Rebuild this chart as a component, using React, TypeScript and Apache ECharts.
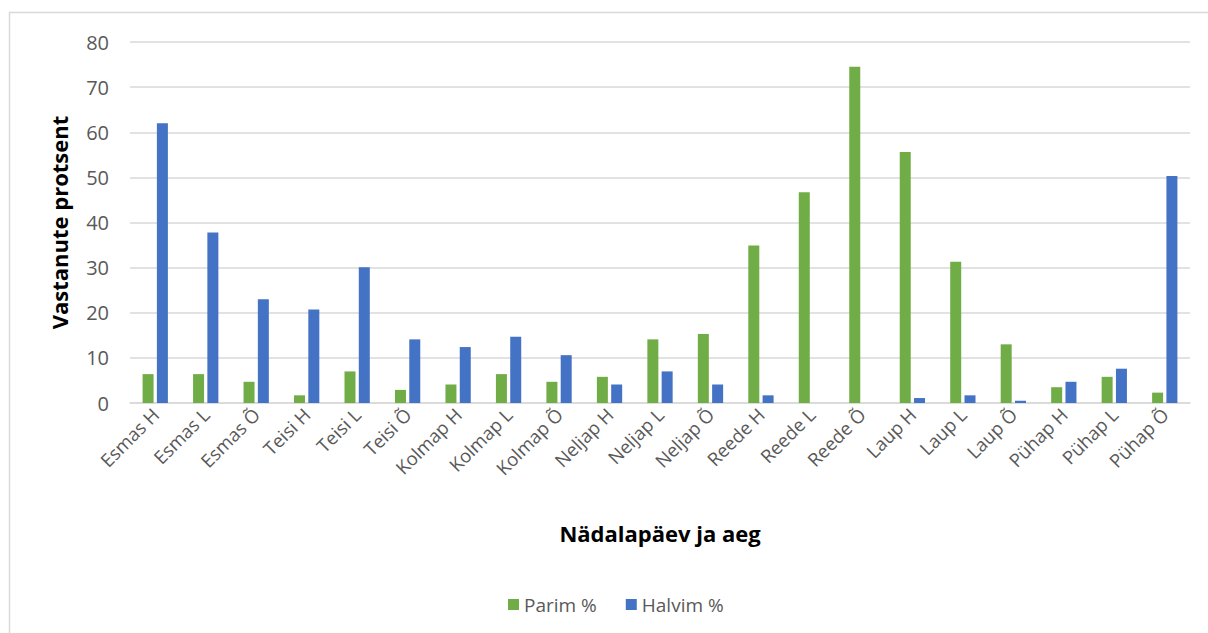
import React, { useEffect, useRef } from "react";
import * as echarts from "echarts";

const categories = [
  "Esmas H", "Esmas L", "Esmas Õ",
  "Teisi H", "Teisi L", "Teisi Õ",
  "Kolmap H", "Kolmap L", "Kolmap Õ",
  "Neljap H", "Neljap L", "Neljap Õ",
  "Reede H", "Reede L", "Reede Õ",
  "Laup H", "Laup L", "Laup Õ",
  "Pühap H", "Pühap L", "Pühap Õ",
];

const parim = [
  6.4, 6.4, 4.7,
  1.7, 7.0, 2.9,
  4.1, 6.4, 4.7,
  5.8, 14.1, 15.3,
  34.9, 46.7, 74.5,
  55.6, 31.3, 13.0,
  3.5, 5.8, 2.3,
];

const halvim = [
  62.0, 37.8, 23.0,
  20.7, 30.1, 14.1,
  12.4, 14.7, 10.6,
  4.1, 7.0, 4.1,
  1.7, 0, 0,
  1.1, 1.7, 0.5,
  4.7, 7.6, 50.3,
];

const seriesNames = ["Parim %", "Halvim %"];
const yTicks = { min: 0, max: 80, interval: 10 };

export default function App() {
  const ref = useRef<HTMLDivElement>(null);

  useEffect(() => {
    if (!ref.current) return;
    const chart = echarts.init(ref.current, undefined, { renderer: "svg" });
    const font = "Open Sans";
    chart.setOption({
      animation: false,
      backgroundColor: "#ffffff",
      graphic: [
        {
          type: "rect",
          shape: { x: 9.5, y: 12.5, width: 1400, height: 800 },
          style: { fill: "none", stroke: "#d9d9d9", lineWidth: 1.5 },
          silent: true,
          z: -1,
        },
      ],
      legend: {
        data: seriesNames,
        left: 503,
        top: 590,
        itemWidth: 11,
        itemHeight: 11,
        itemGap: 29,
        icon: "rect",
        textStyle: { fontFamily: font, fontSize: 19, color: "#595959" },
      },
      grid: { left: 130, right: 18, top: 42, bottom: 230, containLabel: false },
      xAxis: {
        type: "category",
        data: categories,
        name: "Nädalapäev ja aeg",
        nameLocation: "middle",
        nameGap: 119,
        nameTextStyle: { fontFamily: font, fontSize: 22, fontWeight: "bold", color: "#000000" },
        axisLine: { lineStyle: { color: "#d9d9d9", width: 1.5 } },
        axisTick: { show: false },
        axisLabel: {
          rotate: 45,
          interval: 0,
          margin: 8,
          fontFamily: font,
          fontSize: 18.5,
          color: "#595959",
        },
      },
      yAxis: {
        type: "value",
        min: yTicks.min,
        max: yTicks.max,
        interval: yTicks.interval,
        name: "Vastanute protsent",
        nameLocation: "middle",
        nameGap: 60,
        nameRotate: 90,
        nameTextStyle: { fontFamily: font, fontSize: 22, fontWeight: "bold", color: "#000000" },
        axisLine: { show: false },
        axisTick: { show: false },
        splitLine: { lineStyle: { color: "#d9d9d9", width: 1.5 } },
        axisLabel: { margin: 21, fontFamily: font, fontSize: 20, color: "#595959" },
      },
      series: [
        {
          name: seriesNames[0],
          type: "bar",
          data: parim,
          barWidth: 11,
          barGap: "30%",
          itemStyle: { color: "#70ad47" },
        },
        {
          name: seriesNames[1],
          type: "bar",
          data: halvim,
          barWidth: 11,
          barGap: "30%",
          itemStyle: { color: "#4472c4" },
        },
      ],
    });
    return () => chart.dispose();
  }, []);

  return (
    <div
      ref={ref}
      style={{ position: "absolute", left: 0, top: 0, width: 1208, height: 633 }}
    />
  );
}
